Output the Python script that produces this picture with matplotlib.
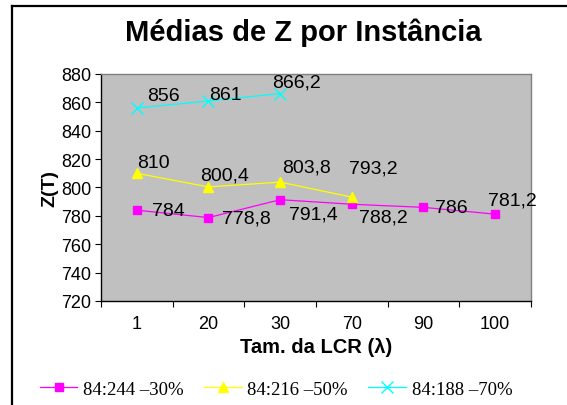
import numpy as np
import matplotlib
matplotlib.use("Agg")
import matplotlib.pyplot as plt
from matplotlib.lines import Line2D

# Data
categorias = ["1", "20", "30", "70", "90", "100"]
serie_30 = [784, 778.8, 791.4, 788.2, 786, 781.2]
serie_50 = [810, 800.4, 803.8, 793.2]
serie_70 = [856, 861, 866.2]
nomes = ["84:244 \u201330%", "84:216 \u201350%", "84:188 \u201370%"]

# label offsets in pixels (left edge, vertical center)
off_30 = [(15, 0), (14, 0), (9, -14), (7, -13), (12, 0), (-7, 14)]
off_50 = [(0, 11), (-8, 12), (2, 15), (-3, 29)]
off_70 = [(10, 13), (1, 6), (-8, 12)]

plt.rcParams['font.family'] = ['Liberation Sans', 'DejaVu Sans']

fig = plt.figure(figsize=(5.67, 4.06), dpi=100)
ax = fig.add_axes([101/567, 1-302/406, 430/567, 227/406])
ax.set_facecolor('#C0C0C0')

x = np.arange(len(categorias))

def fmt(v):
    s = ('%g' % v)
    return s.replace('.', ',')

series = [
    (serie_30, '#FF00FF', 's', 6, off_30),
    (serie_50, '#FFFF00', '^', 7, off_50),
    (serie_70, '#00FFFF', 'x', 8, off_70),
]
handles = []
for vals, cor, mk, ms, offs in series:
    xs = x[:len(vals)]
    h, = ax.plot(xs, vals, color=cor, lw=0.9, marker=mk, markersize=ms,
                 markerfacecolor=cor, markeredgecolor=cor, markeredgewidth=1.0)
    handles.append(h)
    for xi, v, (dx, dy) in zip(xs, vals, offs):
        ax.annotate(fmt(v), (xi, v), xytext=(dx, dy), textcoords='offset pixels',
                    ha='left', va='center', fontsize=14, color='black')

ax.set_xlim(-0.5, 5.5)
ax.set_ylim(720, 880)
ax.set_yticks(np.arange(720, 881, 20))
ax.tick_params(axis='y', labelsize=13, length=4, direction='out', pad=3)

ax.set_xticks(np.arange(-0.5, 6, 1))
ax.set_xticklabels([])
ax.tick_params(axis='x', which='major', length=4, direction='out')
ax.set_xticks(x, minor=True)
ax.set_xticklabels(categorias, minor=True)
ax.tick_params(axis='x', which='minor', length=0, labelsize=13, pad=10)

for s in ['top', 'right']:
    ax.spines[s].set_color('#808080')
    ax.spines[s].set_linewidth(1.0)
for s in ['left', 'bottom']:
    ax.spines[s].set_color('black')
    ax.spines[s].set_linewidth(1.0)

ax.set_ylabel('Z(T)', fontsize=14, fontweight='bold', labelpad=2)
ax.set_xlabel('Tam. da LCR (\u03bb)', fontsize=14.5, fontweight='bold', labelpad=4)

fig.text(303/567, 1-33/406, 'M\u00e9dias de Z por Inst\u00e2ncia', ha='center', va='center',
         fontsize=21, fontweight='bold')

# chart border (clipped at right/bottom)
fig.add_artist(Line2D([12/567, 1.0], [1-7/406, 1-7/406], color='black', lw=1.6))
fig.add_artist(Line2D([12/567, 12/567], [1-7/406, 0.0], color='black', lw=1.6))

leg = fig.legend(handles, nomes, loc='center', bbox_to_anchor=(276/567, 1-390/406), ncol=3,
                 frameon=False, handlelength=2.0, columnspacing=1.1, handletextpad=0.3,
                 prop={'family': 'Liberation Serif', 'size': 13.5})

fig.savefig('out.png', dpi=100)
